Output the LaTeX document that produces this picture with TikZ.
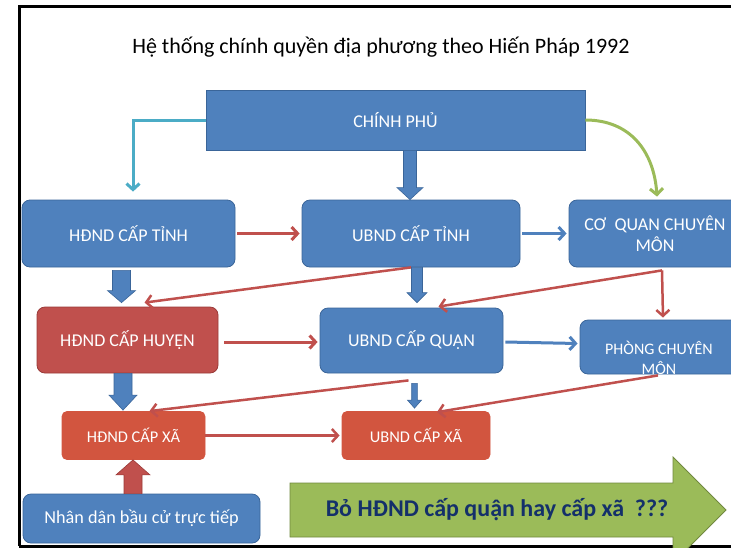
\documentclass[tikz,border=0pt]{standalone}
\usepackage{fontspec}
\setmainfont{Carlito}
\usetikzlibrary{arrows.meta,calc}
\definecolor{boxb}{HTML}{4F81BD}
\definecolor{boxbd}{HTML}{3A6599}
\definecolor{boxr}{HTML}{C0504D}
\definecolor{boxrd}{HTML}{9A3A38}
\definecolor{boxo}{HTML}{D2553F}
\definecolor{lcyan}{HTML}{4BACC6}
\definecolor{lgreen}{HTML}{9BBB59}
\definecolor{lgreend}{HTML}{71893F}
\definecolor{navy}{HTML}{14306A}
\newcommand\fatarr[6]{\filldraw[#6] let \p1=#1, \p2=#2 in
 ({\x1-#3},\y1) -- ({\x1-#3},{\y2+#5}) -- ({\x1-#4},{\y2+#5}) -- (\x1,\y2) --
 ({\x1+#4},{\y2+#5}) -- ({\x1+#3},{\y2+#5}) -- ({\x1+#3},\y1) -- cycle;}
\tikzset{
 box/.style={rectangle, rounded corners=8pt, draw=boxbd, line width=0.8pt, fill=boxb,
   text=white, align=center, inner sep=0pt, font=\fontsize{18}{21}\selectfont},
 redbox/.style={box, fill=boxr, draw=boxrd},
 xabox/.style={box, fill=boxo, draw=boxo, rounded corners=5pt, font=\fontsize{16.4}{19}\selectfont},
 conn/.style={line width=3pt, -{Straight Barb[length=6pt,width=13pt]}},
 redconn/.style={conn, draw=boxr},
 blueconn/.style={conn, draw=boxb},
 fatblue/.style={fill=boxb, draw=boxbd, line width=0.6pt},
 fatred/.style={fill=boxr, draw=boxrd, line width=0.6pt},
}
\begin{document}
\begin{tikzpicture}[x=1pt,y=-1pt]
\clip (0,0) rectangle (731,547);
\fill[white] (0,0) rectangle (731,547);
% frame
\draw[line width=3pt, black] (19,546) -- (19,6) -- (740,6);
\draw[line width=3pt, black] (19,546) -- (740,546);
% title
\node[font=\fontsize{22}{26}\selectfont] (title) at (381,47) {Hệ thống chính quyền địa phương theo Hiến Pháp 1992};
% boxes
\node[box, rounded corners=0pt, minimum width=379pt, minimum height=60pt] (cp) at (395.5,120) {CHÍNH PHỦ};
\node[box, minimum width=213pt, minimum height=67pt] (ht) at (128.5,233.5) {HĐND CẤP TỈNH};
\node[box, minimum width=218pt, minimum height=67pt] (ut) at (411,233.5) {UBND CẤP TỈNH};
\node[box, minimum width=172pt, minimum height=67pt] (cq) at (655,233.5) {CƠ\ \ QUAN CHUYÊN\\MÔN};
\node[redbox, minimum width=181pt, minimum height=66pt] (hh) at (127.5,340) {HĐND CẤP HUYỆN};
\node[box, minimum width=183pt, minimum height=65pt] (uq) at (411.5,340.5) {UBND CẤP QUẬN};
\node[box, minimum width=160pt, minimum height=54pt] (pc) at (660,347) {};
\begin{scope}
\clip (pc.south west) rectangle (pc.north east);
\node[align=center, text=white, font=\fontsize{16}{20}\selectfont] (pct) at (659,358) {PHÒNG CHUYÊN\\MÔN};
\end{scope}
\node[xabox, minimum width=143pt, minimum height=48pt] (hx) at (133.5,435.5) {HĐND CẤP XÃ};
\node[xabox, minimum width=148pt, minimum height=48pt] (ux) at (416,435.5) {UBND CẤP XÃ};
\node[box, minimum width=237pt, minimum height=49pt, font=\fontsize{18.2}{22}\selectfont] (nd) at (141.5,518.5) {Nhân dân bầu cử trực tiếp};
% big green arrow
\filldraw[fill=lgreen, draw=lgreend, line width=0.8pt] (290,483) -- (673,483) -- (673,457) -- (726,510) -- (673,563) -- (673,537) -- (290,537) -- cycle;
\node[font=\fontsize{24}{28}\selectfont\bfseries, text=navy] (q) at (497,510) {Bỏ HĐND cấp quận hay cấp xã\ \ ???};
% connectors from CHÍNH PHỦ
\draw[conn, draw=lcyan] (cp.west) -| ($(ht.north)+(4.5,-8)$);
\draw[conn, draw=lgreen] (cp.east) .. controls +(45,0) and +(-3,-45) .. ($(cq.north)+(2,-3)$);
\fatarr{($(cp.south)+(14.5,0)$)}{(ut.north)}{6.5pt}{13pt}{12pt}{fatblue}
% fat arrows
\fatarr{($(ht.south)+(-7,3)$)}{($(hh.north)+(-6,-4)$)}{9pt}{14pt}{12pt}{fatblue}
\fatarr{($(ut.south)+(6,0)$)}{($(uq.north)+(5.5,-5)$)}{5.5pt}{10pt}{10pt}{fatblue}
\fatarr{($(hh.south)+(-4.5,0)$)}{($(hx.north)+(-10.5,-1)$)}{9pt}{14pt}{15pt}{fatblue}
\fatarr{($(uq.south)+(3,10)$)}{($(ux.north)+(-1.5,-3)$)}{2.8pt}{7pt}{8pt}{fatblue}
\fatarr{($(nd.north)+(-8.5,0)$)}{($(hx.south)+(-0.5,0)$)}{9pt}{17pt}{-15pt}{fatred}
% horizontal connectors
\draw[redconn] ($(ht.east)+(2,0)$) -- ($(ut.west)+(-2,0)$);
\draw[blueconn] ($(ut.east)+(2,0)$) -- ($(cq.west)+(-2,0)$);
\draw[redconn] ($(hh.east)+(6,2)$) -- ($(uq.west)+(-2,1.5)$);
\draw[blueconn] ($(uq.east)+(2,1.5)$) -- ($(pc.west)+(-2,-3.5)$);
\draw[redconn, line width=2.5pt] ($(hx.east)+(0,0)$) -- ($(ux.west)+(-2,0)$);
% diagonal connectors
\draw[redconn, line width=2.5pt] (ut.south) -- ($(hh.north)+(17,-4)$);
\coordinate (cqb) at ($(cq.south)+(7,3)$);
\draw[redconn, line width=2.5pt] (cqb) -- ($(uq.north)+(27,-1)$);
\draw[redconn, line width=2.5pt] (cqb) -- ($(pc.north)+(3,-2)$);
\draw[redconn, line width=2.5pt] ($(uq.south)+(-3,7)$) -- ($(hx.north)+(16,0)$);
\draw[redconn, line width=2.5pt] ($(pc.south)+(-2,1)$) -- ($(ux.north)+(21,1)$);
\end{tikzpicture}
\end{document}
